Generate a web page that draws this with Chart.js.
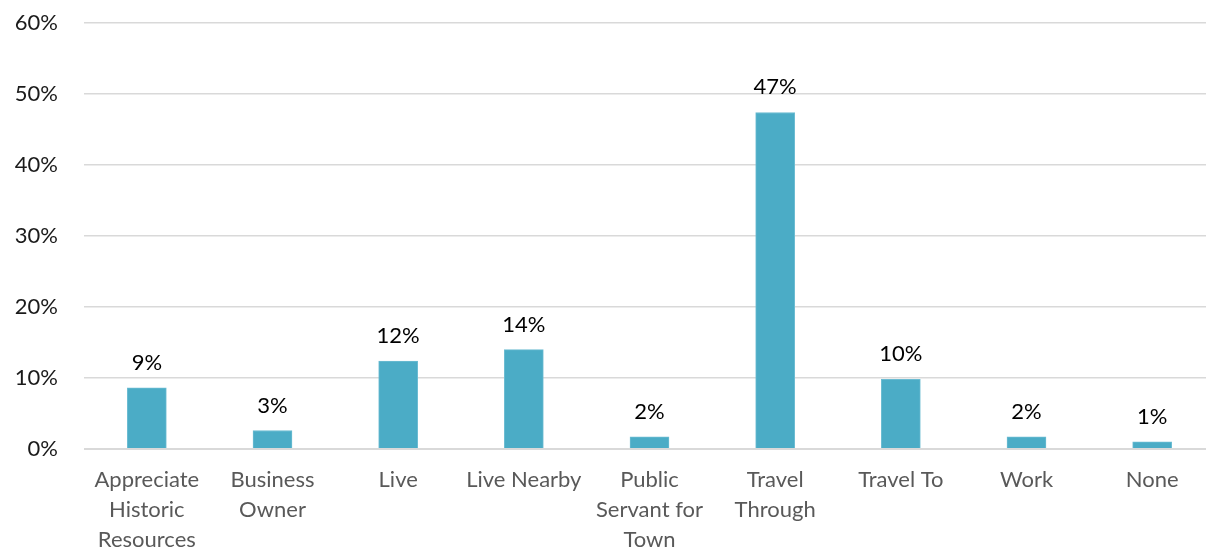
<!DOCTYPE html>
<html>
<head>
<meta charset="utf-8">
<script src="https://cdn.jsdelivr.net/npm/chart.js@4"></script>
<style>
  html, body { margin: 0; padding: 0; background: #ffffff; overflow: hidden; }
  #wrap { width: 1215px; height: 550px; }
</style>
</head>
<body>
<div id="wrap"><canvas id="chart" width="1215" height="550"></canvas></div>
<script>
// Survey responses: connection to the area
const categories = [
  ["Appreciate", "Historic", "Resources"],
  ["Business", "Owner"],
  "Live",
  "Live Nearby",
  ["Public", "Servant for", "Town"],
  ["Travel", "Through"],
  "Travel To",
  "Work",
  "None"
];
const shares = [8.6, 2.6, 12.4, 14.0, 1.7, 47.4, 9.8, 1.7, 1.0];
const yTicks = [0, 10, 20, 30, 40, 50, 60];

const FONT = "Lato, 'Open Sans', sans-serif";

// Draws the rounded percentage above each bar
const valueLabels = {
  id: 'valueLabels',
  afterDatasetsDraw(chart) {
    const ctx = chart.ctx;
    const meta = chart.getDatasetMeta(0);
    const data = chart.data.datasets[0].data;
    ctx.save();
    ctx.font = "22px " + FONT;
    ctx.fillStyle = '#000000';
    ctx.textAlign = 'center';
    ctx.textBaseline = 'alphabetic';
    meta.data.forEach((bar, i) => {
      ctx.fillText(Math.round(data[i]) + '%', bar.x, bar.y - 18);
    });
    ctx.restore();
  }
};

new Chart(document.getElementById('chart'), {
  type: 'bar',
  data: {
    labels: categories,
    datasets: [{
      data: shares,
      backgroundColor: '#4bacc6',
      borderColor: '#6cbcd2',
      borderWidth: 1,
      barThickness: 39
    }]
  },
  options: {
    responsive: false,
    devicePixelRatio: 1,
    animation: false,
    layout: { padding: { top: 23, right: 0, bottom: 0, left: 0 } },
    plugins: {
      legend: { display: false },
      tooltip: { enabled: false }
    },
    scales: {
      x: {
        grid: { display: false, drawTicks: false },
        border: { display: false },
        ticks: {
          color: '#595959',
          font: { family: FONT, size: 22, lineHeight: 30 / 22 },
          padding: 16,
          maxRotation: 0,
          autoSkip: false
        },
        afterFit(scale) {
          scale.height = 101;
          scale.paddingLeft = 0;
          scale.paddingRight = 0;
        }
      },
      y: {
        min: 0,
        max: 60,
        afterBuildTicks(scale) { scale.ticks = yTicks.map(v => ({ value: v })); },
        grid: {
          color: '#d9d9d9',
          lineWidth: ctx => (ctx.tick && ctx.tick.value === 0 ? 2 : 1.5),
          drawTicks: false
        },
        border: { display: false },
        ticks: {
          color: '#1a1a1a',
          font: { family: FONT, size: 22 },
          padding: 26,
          callback: v => v + '%'
        },
        afterFit(scale) {
          scale.width = 84;
          scale.paddingTop = 0;
          scale.paddingBottom = 0;
        }
      }
    }
  },
  plugins: [valueLabels]
});
</script>
</body>
</html>
